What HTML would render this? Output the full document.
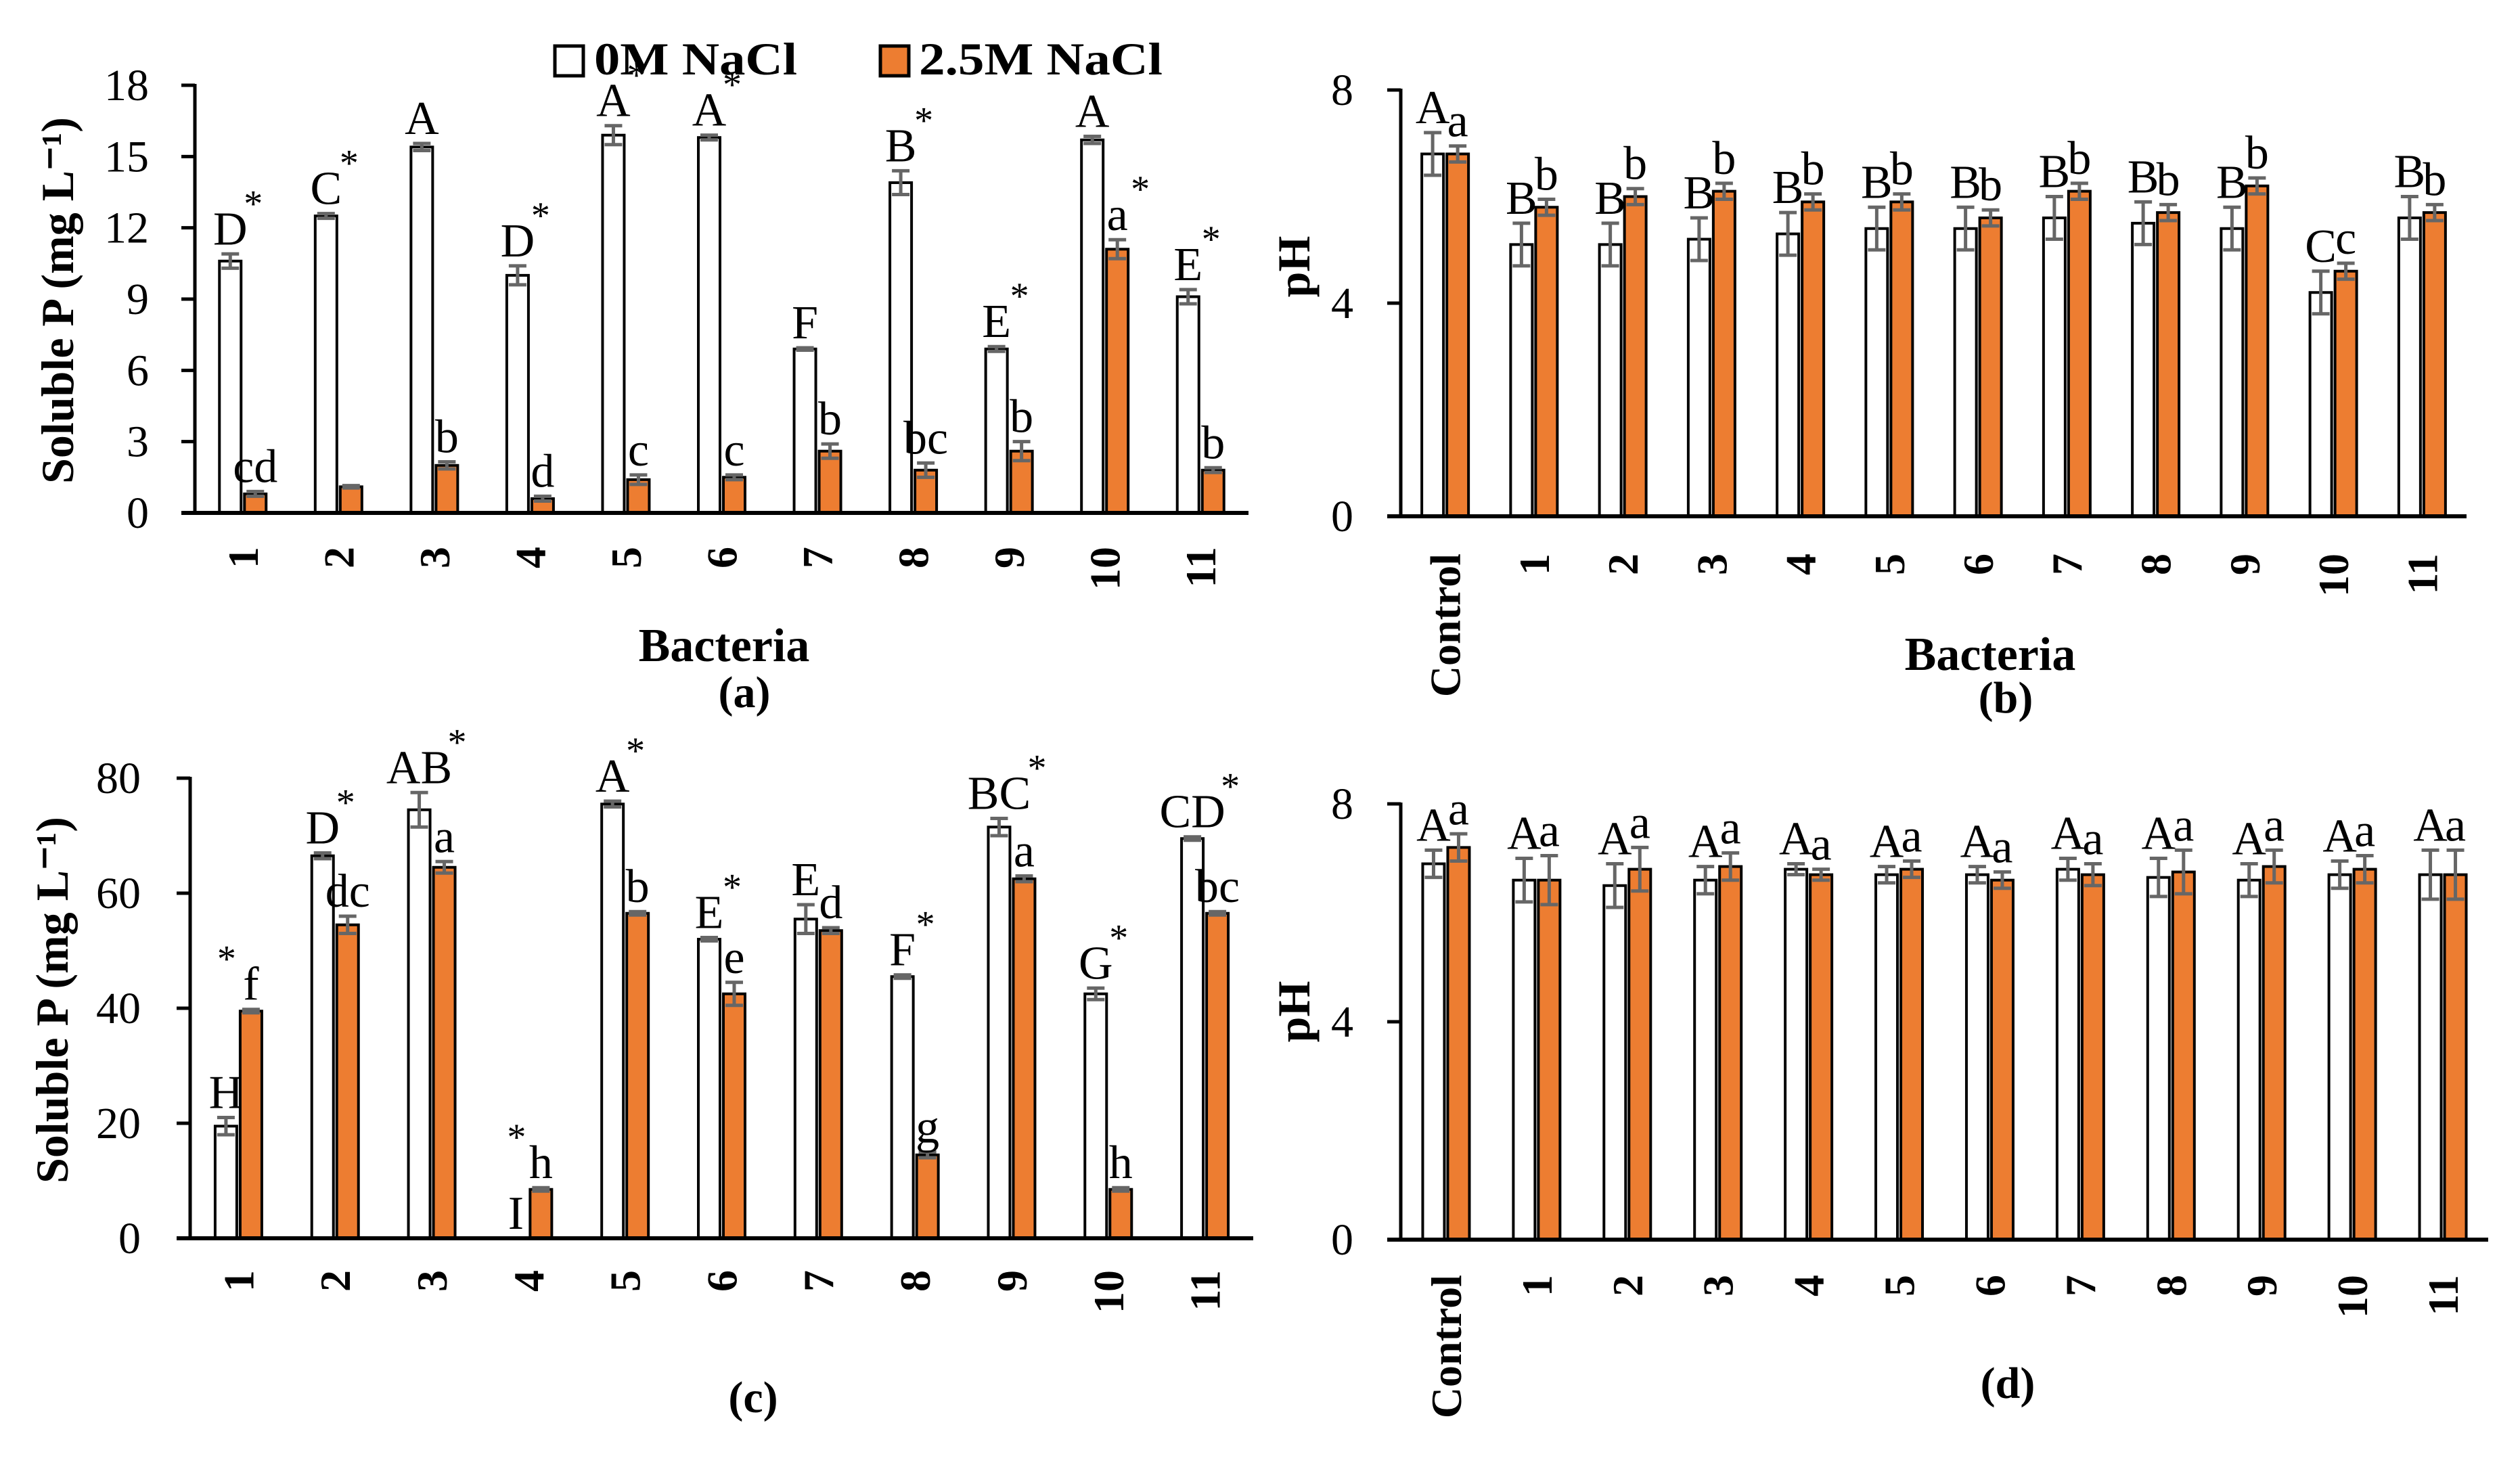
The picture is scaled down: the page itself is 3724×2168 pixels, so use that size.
<!DOCTYPE html>
<html><head><meta charset="utf-8"><style>
html,body{margin:0;padding:0;background:#fff;}
svg{display:block;font-family:"Liberation Serif",serif;}
</style></head><body>
<svg id="fig" width="3724" height="2168" viewBox="0 0 3724 2168" xmlns="http://www.w3.org/2000/svg">
<g>
<rect x="820" y="68" width="42" height="44" fill="#fff" stroke="#000" stroke-width="5"/>
<text x="878" y="110" font-size="68" font-weight="bold" textLength="300" lengthAdjust="spacingAndGlyphs">0M NaCl</text>
<rect x="1301" y="68" width="42" height="44" fill="#ED7D31" stroke="#000" stroke-width="5"/>
<text x="1358" y="110" font-size="68" font-weight="bold" textLength="360" lengthAdjust="spacingAndGlyphs">2.5M NaCl</text>
</g>
</svg>
<script>
// Panel (a)
const catsA = ["1","2","3","4","5","6","7","8","9","10","11"];
const whiteA = [10.6,12.5,15.4,10.0,15.9,15.8,6.9,13.9,6.9,15.7,9.1];
const whiteErrA = [0.3,0.1,0.15,0.4,0.4,0.1,0.05,0.5,0.1,0.15,0.3];
const orangeA = [0.8,1.1,2.0,0.6,1.4,1.5,2.6,1.8,2.6,11.1,1.8];
const orangeErrA = [0.1,0.05,0.15,0.1,0.2,0.1,0.3,0.3,0.4,0.4,0.1];
const whiteLabA = ["D*","C*","A","D*","A*","A*","F","B*","E*","A","E*"];
const orangeLabA = ["cd","","b","d","c","c","b","bc","b","a*","b"];
const ticksA = [0,3,6,9,12,15,18];
// Panel (b)
const catsB = ["Control","1","2","3","4","5","6","7","8","9","10","11"];
const whiteB = [6.8,5.1,5.1,5.2,5.3,5.4,5.4,5.6,5.5,5.4,4.2,5.6];
const whiteErrB = [0.4,0.4,0.4,0.4,0.4,0.4,0.4,0.4,0.4,0.4,0.4,0.4];
const orangeB = [6.8,5.8,6.0,6.1,5.9,5.9,5.6,6.1,5.7,6.2,4.6,5.7];
const orangeErrB = [0.15,0.15,0.15,0.15,0.15,0.15,0.15,0.15,0.15,0.15,0.15,0.15];
const whiteLabB = ["A","B","B","B","B","B","B","B","B","B","C","B"];
const orangeLabB = ["a","b","b","b","b","b","b","b","b","b","c","b"];
const ticksB = [0,4,8];
// Panel (c)
const catsC = ["1","2","3","4","5","6","7","8","9","10","11"];
const whiteC = [19.5,66.5,74.5,0,75.5,52,55.5,45.5,71.5,42.5,69.5];
const whiteErrC = [1.5,0.5,3,0,0.5,0.3,2.5,0.3,1.5,1,0.3];
const orangeC = [39.5,54.5,64.5,8.5,56.5,42.5,53.5,14.5,62.5,8.5,56.5];
const orangeErrC = [0.3,1.5,1,0.3,0.3,2,0.5,0.5,0.5,0.3,0.3];
const whiteLabC = ["H","D*","AB*","I","A*","E*","E","F*","BC*","G*","CD*"];
const orangeLabC = ["*f","dc","a","*h","b","e","d","g","a","h","bc"];
const ticksC = [0,20,40,60,80];
// Panel (d)
const catsD = ["Control","1","2","3","4","5","6","7","8","9","10","11"];
const whiteD = [6.9,6.6,6.5,6.6,6.8,6.7,6.7,6.8,6.65,6.6,6.7,6.7];
const whiteErrD = [0.25,0.4,0.4,0.25,0.1,0.15,0.15,0.2,0.35,0.3,0.25,0.45];
const orangeD = [7.2,6.6,6.8,6.85,6.7,6.8,6.6,6.7,6.75,6.85,6.8,6.7];
const orangeErrD = [0.25,0.45,0.4,0.25,0.1,0.15,0.15,0.2,0.4,0.3,0.25,0.45];
const whiteLabD = ["A","A","A","A","A","A","A","A","A","A","A","A"];
const orangeLabD = ["a","a","a","a","a","a","a","a","a","a","a","a"];
const ticksD = [0,4,8];

const NS = "http://www.w3.org/2000/svg";
const fig = document.getElementById("fig");
function mk(tag, attrs, parent){
  const e = document.createElementNS(NS, tag);
  for (const k in attrs) e.setAttribute(k, attrs[k]);
  (parent||fig).appendChild(e);
  return e;
}
function panel(p){
  const g = mk("g", {});
  
  
  const n = p.cats.length;
  const gw = (p.x1 - p.x0) / n;
  const ys = v => p.y0 - (v - 0) / p.max * (p.y0 - p.yTop);
  const xc = i => p.x0 + gw * (i + 0.5);
  const bw = 32, gap = 5;
  p.ticks.forEach(t => {
    const tl = mk("line", {x1:p.x0-20, x2:p.x0, y1:ys(t), y2:ys(t), stroke:"#000", "stroke-width":5}, g);
    
    
    const tt = mk("text", {x:p.tickX, y:ys(t)+22, "font-size":66, "text-anchor":"end"}, g);
    tt.textContent = t;
    
    
  });
  const ya = mk("line", {x1:p.x0, x2:p.x0, y1:ys(p.max)-2, y2:p.y0, stroke:"#000", "stroke-width":5}, g);
  
  
  for (let i=0;i<n;i++){
    const c = xc(i);
    const series = [
      {v:p.w[i], e:p.we[i], x:c-gap/2-bw, fill:"#fff", lab:p.wl[i], nm:"white"},
      {v:p.o[i], e:p.oe[i], x:c+gap/2, fill:"#ED7D31", lab:p.ol[i], nm:"orange"}
    ];
    series.forEach(s => {
      if (s.v > 0){
        const r = mk("rect", {x:s.x, y:ys(s.v), width:bw, height:p.y0-ys(s.v), fill:s.fill, stroke:"#000", "stroke-width":4}, g);
        
        
        const bx = s.x + bw/2;
        const eb = mk("path", {d:`M${bx-13},${ys(s.v+s.e)}H${bx+13}M${bx},${ys(s.v+s.e)}V${ys(s.v-s.e)}M${bx-13},${ys(s.v-s.e)}H${bx+13}`, stroke:"#666", "stroke-width":5, fill:"none"}, g);
        
        
      }
      if (s.lab){
        const top = ys(s.v + s.e) - 14;
        const main = s.lab.replace(/\*/g,"");
        const t = mk("text", {x:s.x+bw/2, y:top, "font-size":70, "text-anchor":"middle"}, g);
        t.textContent = main;
        
        
        if (s.lab.indexOf("*")>=0){
          const w = main.length*22;
          const sx = s.lab[0]==="*" ? s.x+bw/2 - w - 14 : s.x+bw/2 + w + 12;
          const st = mk("text", {x:sx, y:top-42, "font-size":56, "text-anchor":"middle"}, g);
          st.textContent = "*";
          
          
        }
      }
    });
    const xl = mk("text", {transform:`translate(${c+22},${p.labY}) rotate(-90)`, "font-size":64, "font-weight":"bold", "text-anchor":"end"}, g);
    xl.textContent = p.cats[i];
    
    
  }
  const xa = mk("line", {x1:p.x0-20, x2:p.x1, y1:p.y0, y2:p.y0, stroke:"#000", "stroke-width":6}, g);
  
  
  const yt = mk("text", {transform:`translate(${p.ytX},${p.ytY}) rotate(-90)`, "font-size":68, "font-weight":"bold", "text-anchor":"middle"}, g);
  yt.textContent = p.ytitle;
  
  
  if (p.xtitle){
    const xt = mk("text", {x:p.xtX, y:p.xtY, "font-size":70, "font-weight":"bold", "text-anchor":"middle"}, g);
    xt.textContent = p.xtitle;
    
    
  }
  const pl = mk("text", {x:p.plX, y:p.plY, "font-size":66, "font-weight":"bold", "text-anchor":"middle"}, g);
  pl.textContent = p.plabel;
  
  
}
panel({id:"a", cats:catsA, w:whiteA, we:whiteErrA, o:orangeA, oe:orangeErrA, wl:whiteLabA, ol:orangeLabA, ticks:ticksA, max:18,
  x0:288, x1:1845, y0:758, yTop:126, tickX:220, labY:808, ytitle:"Soluble P (mg L\u207B\u00B9)", ytX:108, ytY:444,
  xtitle:"Bacteria", xtX:1070, xtY:977, plabel:"(a)", plX:1100, plY:1045});
panel({id:"b", cats:catsB, w:whiteB, we:whiteErrB, o:orangeB, oe:orangeErrB, wl:whiteLabB, ol:orangeLabB, ticks:ticksB, max:8,
  x0:2070, x1:3645, y0:763, yTop:133, tickX:2000, labY:818, ytitle:"pH", ytX:1935, ytY:394,
  xtitle:"Bacteria", xtX:2941, xtY:990, plabel:"(b)", plX:2964, plY:1053});
panel({id:"c", cats:catsC, w:whiteC, we:whiteErrC, o:orangeC, oe:orangeErrC, wl:whiteLabC, ol:orangeLabC, ticks:ticksC, max:80,
  x0:281, x1:1852, y0:1830, yTop:1150, tickX:208, labY:1877, ytitle:"Soluble P (mg L\u207B\u00B9)", ytX:100, ytY:1478,
  xtitle:"", plabel:"(c)", plX:1113, plY:2087});
panel({id:"d", cats:catsD, w:whiteD, we:whiteErrD, o:orangeD, oe:orangeErrD, wl:whiteLabD, ol:orangeLabD, ticks:ticksD, max:8,
  x0:2070, x1:3677, y0:1832, yTop:1188, tickX:2000, labY:1884, ytitle:"pH", ytX:1935, ytY:1495,
  xtitle:"", plabel:"(d)", plX:2967, plY:2066});
</script>
</body></html>
